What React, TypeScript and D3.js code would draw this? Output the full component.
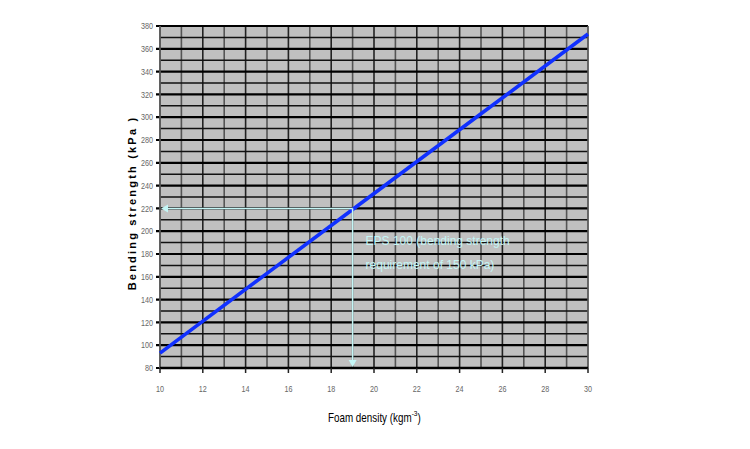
import * as d3 from 'd3';

// Foam density (kg m-3) vs bending strength (kPa)
const density = [10, 15, 19, 25, 30];
const strength = [93, 163, 219, 303, 373];

const xTicks = [10, 12, 14, 16, 18, 20, 22, 24, 26, 28, 30];
const yTicks = [80, 100, 120, 140, 160, 180, 200, 220, 240, 260, 280, 300, 320, 340, 360, 380];
const xGrid = d3.range(10, 31, 1);
const yMinor = d3.range(90, 380, 20);

// EPS 100 requirement marker
const refDensity = 19;
const refStrength = 220;
const noteLines = ['EPS 100  (bending strength', 'requirement of 150 kPa)'];

const W = 750;
const H = 449;
const left = 160;
const right = 588;
const top = 26;
const bottom = 368;

export default function App() {
  const x = d3.scaleLinear().domain([10, 30]).range([left, right]);
  const y = d3.scaleLinear().domain([80, 380]).range([bottom, top]);

  const line = d3
    .line<number>()
    .x((_, i) => x(density[i]))
    .y((d) => y(d));

  const cyan = '#c4f6f6';
  const rx = x(refDensity);
  const ry = y(refStrength);
  const font = 'Liberation Sans, Arial, sans-serif';

  return (
    <svg
      width={W}
      height={H}
      style={{ position: 'absolute', left: 0, top: 0, background: '#fff' }}
    >
      <rect x={left} y={top} width={right - left} height={bottom - top} fill="#c0c0c0" />

      {/* vertical grid */}
      {xGrid.map((v) => (
        <line
          key={'vx' + v}
          x1={x(v)}
          x2={x(v)}
          y1={top}
          y2={bottom}
          stroke={v % 2 === 0 ? '#222' : '#555'}
          strokeWidth={1.6}
        />
      ))}

      {/* horizontal grid */}
      {yMinor.map((v) => (
        <line key={'hm' + v} x1={left} x2={right} y1={y(v)} y2={y(v)} stroke="#111" strokeWidth={1.5} />
      ))}
      {yTicks.map((v) => (
        <line key={'hM' + v} x1={left - 4} x2={right} y1={y(v)} y2={y(v)} stroke="#000" strokeWidth={2.2} />
      ))}

      {/* frame */}
      <line x1={left} x2={left} y1={top} y2={bottom} stroke="#666" strokeWidth={1.5} />
      <line x1={right} x2={right} y1={top} y2={bottom} stroke="#888" strokeWidth={1} />
      <line x1={left} x2={right} y1={bottom} y2={bottom} stroke="#000" strokeWidth={2.5} />

      {/* x ticks */}
      {xTicks.map((v) => (
        <g key={'xt' + v}>
          <line x1={x(v)} x2={x(v)} y1={bottom} y2={bottom + 5} stroke="#222" strokeWidth={1.5} />
          <text
            transform={`translate(${x(v)}, ${bottom + 24}) scale(0.8, 1)`}
            textAnchor="middle"
            fontSize={9}
            fill="#666"
            fontFamily={font}
          >
            {v}
          </text>
        </g>
      ))}

      {/* y tick labels */}
      {yTicks.map((v) => (
        <text
          key={'yt' + v}
          transform={`translate(${left - 7}, ${y(v)}) scale(0.8, 1)`}
          dy="0.35em"
          textAnchor="end"
          fontSize={9}
          fill="#666"
          fontFamily={font}
        >
          {v}
        </text>
      ))}

      {/* data line */}
      <path d={line(strength) ?? ''} fill="none" stroke="#1030ff" strokeWidth={3.6} />

      {/* requirement marker */}
      <line x1={left + 6} x2={rx} y1={ry} y2={ry} stroke={cyan} strokeWidth={1.5} />
      <path d={`M${left + 1},${ry} L${left + 8},${ry - 4} L${left + 8},${ry + 4} Z`} fill={cyan} />
      <line x1={rx} x2={rx} y1={ry} y2={bottom - 6} stroke={cyan} strokeWidth={1.5} />
      <path d={`M${rx},${bottom - 1} L${rx - 4},${bottom - 8} L${rx + 4},${bottom - 8} Z`} fill={cyan} />
      {noteLines.map((t, i) => (
        <text
          key={t}
          x={rx + 13}
          y={ry + 37 + i * 24}
          fontSize={12}
          fill={cyan}
          fontFamily={font}
        >
          {t}
        </text>
      ))}

      {/* axis titles */}
      <text
        transform={`translate(136, ${(top + bottom) / 2 + 6}) rotate(-90)`}
        textAnchor="middle"
        fontSize={11}
        fontWeight="bold"
        letterSpacing={2.2}
        fill="#000"
        fontFamily={font}
      >
        Bending strength (kPa )
      </text>
      <text
        transform="translate(328, 422) scale(0.82, 1)"
        fontSize={12}
        fill="#000"
        fontFamily={font}
      >
        Foam density (kgm
        <tspan dy={-6} fontSize={8}>-3</tspan>
        <tspan dy={6}>)</tspan>
      </text>
    </svg>
  );
}
